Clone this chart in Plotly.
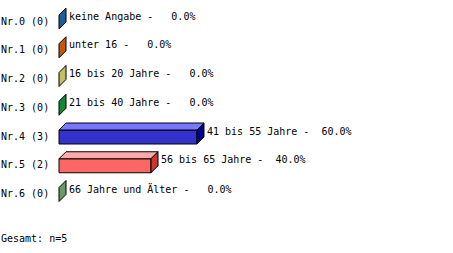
import plotly.graph_objects as go

# ---- data ----
categories = ["keine Angabe", "unter 16", "16 bis 20 Jahre", "21 bis 40 Jahre",
              "41 bis 55 Jahre", "56 bis 65 Jahre", "66 Jahre und Älter"]
counts = [0, 0, 0, 0, 3, 2, 0]
percents = [0.0, 0.0, 0.0, 0.0, 60.0, 40.0, 0.0]
row_labels = ["Nr.0 (0)", "Nr.1 (0)", "Nr.2 (0)", "Nr.3 (0)", "Nr.4 (3)", "Nr.5 (2)", "Nr.6 (0)"]
total_label = "Gesamt: n=5"

front_colors = ["#1a5f99", "#c05a0a", "#c0c060", "#108a30", "#3333cc", "#ff6666", "#6a9a6a"]
top_colors = ["#5a8fc9", "#e08a4a", "#e0e090", "#50b060", "#7777ff", "#ffaaaa", "#9aca9a"]
side_colors = ["#1a5f99", "#c05a0a", "#c0c060", "#108a30", "#000088", "#cc3333", "#6a9a6a"]

# ---- geometry / styling ----
W, H = 453, 253
x0_px = 59.0          # pixel of 0 %
px_per_pct = 2.3
row0_px = 22.0
row_step = 28.75
depth_px = 7.0
half_h_px = 7.0

xr = [-x0_px / px_per_pct, (W - x0_px) / px_per_pct]
yr = [(H - row0_px) / row_step, -row0_px / row_step]
dx = depth_px / px_per_pct
dy = depth_px / row_step
hh = half_h_px / row_step

FONT = dict(family="DejaVu Sans Mono, Liberation Mono, monospace", size=10, color="black")

fig = go.Figure()

def poly(xs, ys, color):
    fig.add_trace(go.Scatter(
        x=xs + [xs[0]], y=ys + [ys[0]], mode="lines", fill="toself",
        fillcolor=color, line=dict(color="black", width=1),
        hoverinfo="skip", showlegend=False))

for i, v in enumerate(percents):
    yt, yb = i - hh, i + hh
    if v > 0:
        # front face
        poly([0, v, v, 0], [yt, yt, yb, yb], front_colors[i])
        # top face
        poly([0, v, v + dx, dx], [yt, yt, yt - dy, yt - dy], top_colors[i])
    # side face
    poly([v, v + dx, v + dx, v], [yt, yt - dy, yb - dy, yb], side_colors[i])

    fig.add_annotation(x=v, y=i, xref="x", yref="y", xanchor="left", yanchor="middle",
                       text=f"{categories[i]} - {v:5.1f}%".replace(" ", "&nbsp;"),
                       showarrow=False, xshift=8, yshift=6, font=FONT)
    fig.add_annotation(x=0, y=i, xref="paper", yref="y", xanchor="left", yanchor="middle",
                       text=row_labels[i].replace(" ", "&nbsp;"), showarrow=False,
                       xshift=-1, yshift=1, font=FONT)

fig.add_annotation(x=0, y=1 - 238 / H, xref="paper", yref="paper", xanchor="left",
                   yanchor="middle", text=total_label, showarrow=False, xshift=-1, font=FONT)

fig.update_layout(
    width=W, height=H, margin=dict(l=0, r=0, t=0, b=0),
    paper_bgcolor="white", plot_bgcolor="white",
    xaxis=dict(range=xr, visible=False, fixedrange=True),
    yaxis=dict(range=yr, visible=False, fixedrange=True),
    showlegend=False,
)

fig.write_html("out.html", config={"displayModeBar": False})
